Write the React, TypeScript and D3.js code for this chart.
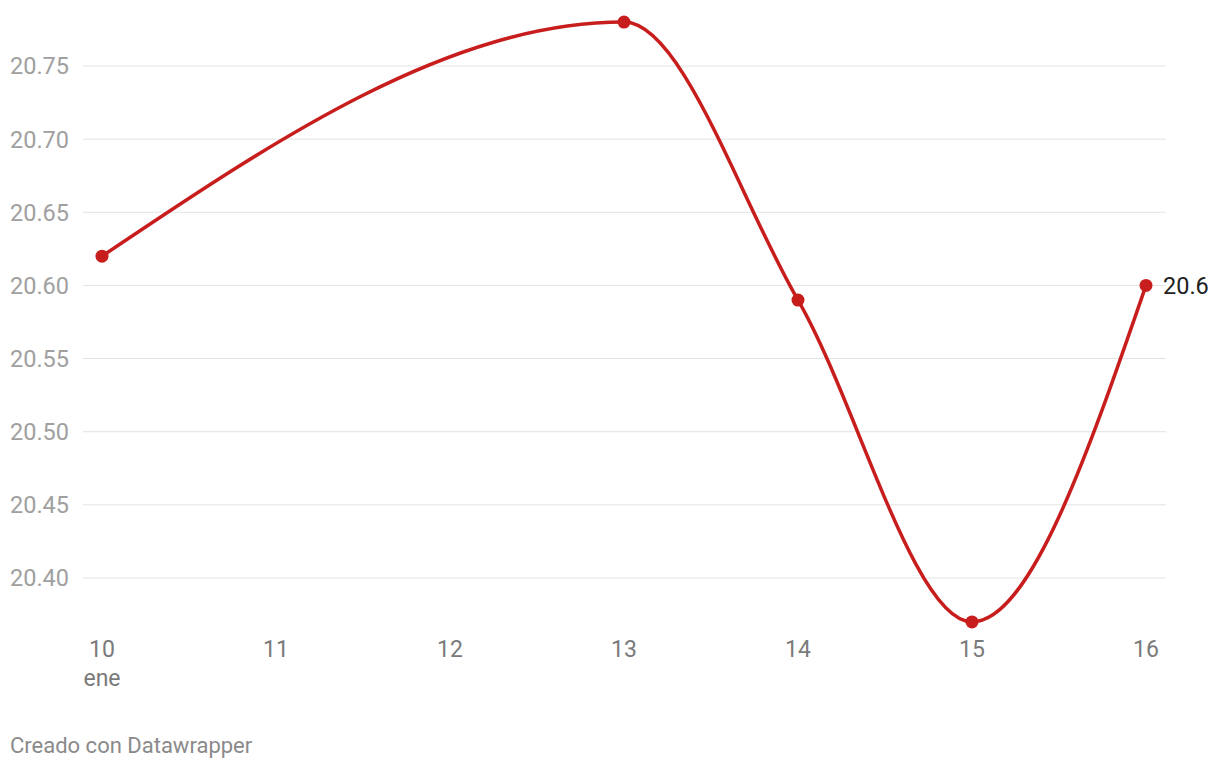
import React from "react";
import * as d3 from "d3";

const dates = [10, 13, 14, 15, 16];
const values = [20.62, 20.78, 20.59, 20.37, 20.6];
const xTicks = [10, 11, 12, 13, 14, 15, 16];
const yTicks = [20.4, 20.45, 20.5, 20.55, 20.6, 20.65, 20.7, 20.75];
const monthLabel = "ene";
const credit = "Creado con Datawrapper";

const W = 1220;
const H = 768;

export default function App() {
  const x = d3.scaleLinear().domain([10, 16]).range([102, 1146]);
  const y = d3.scaleLinear().domain([20.4, 20.75]).range([578, 66]);
  const pts = dates.map((d, i) => [x(d), y(values[i])] as [number, number]);
  const line = d3.line().curve(d3.curveMonotoneX)(pts) || "";
  const font = "Roboto, sans-serif";
  const last = pts[pts.length - 1];
  return (
    <svg width={W} height={H} style={{ position: "absolute", left: 0, top: 0, background: "#fff" }}>
      {yTicks.map((t) => (
        <g key={t}>
          <line x1={83} x2={1166} y1={y(t)} y2={y(t)} stroke="#e3e3e3" strokeWidth={1} />
          <text x={10} y={y(t)} dy="0.36em" fontFamily={font} fontSize={23.5} fill="#a0a0a0">
            {d3.format(".2f")(t)}
          </text>
        </g>
      ))}
      {xTicks.map((t) => (
        <text key={t} x={x(t)} y={657} textAnchor="middle" fontFamily={font} fontSize={23} fill="#7a7a7a">
          {t}
        </text>
      ))}
      <text x={x(10)} y={686} textAnchor="middle" fontFamily={font} fontSize={23} fill="#7a7a7a">{monthLabel}</text>
      <path d={line} fill="none" stroke="#c71e1d" strokeWidth={3.5} />
      {pts.map((p, i) => (
        <circle key={i} cx={p[0]} cy={p[1]} r={6.5} fill="#c71e1d" />
      ))}
      <text x={last[0] + 17} y={last[1]} dy="0.36em" fontFamily={font} fontSize={23.5} fill="#222">
        {d3.format(".1f")(values[values.length - 1])}
      </text>
      <text x={10} y={753} fontFamily={font} fontSize={22} fill="#8a8a8a">{credit}</text>
    </svg>
  );
}
